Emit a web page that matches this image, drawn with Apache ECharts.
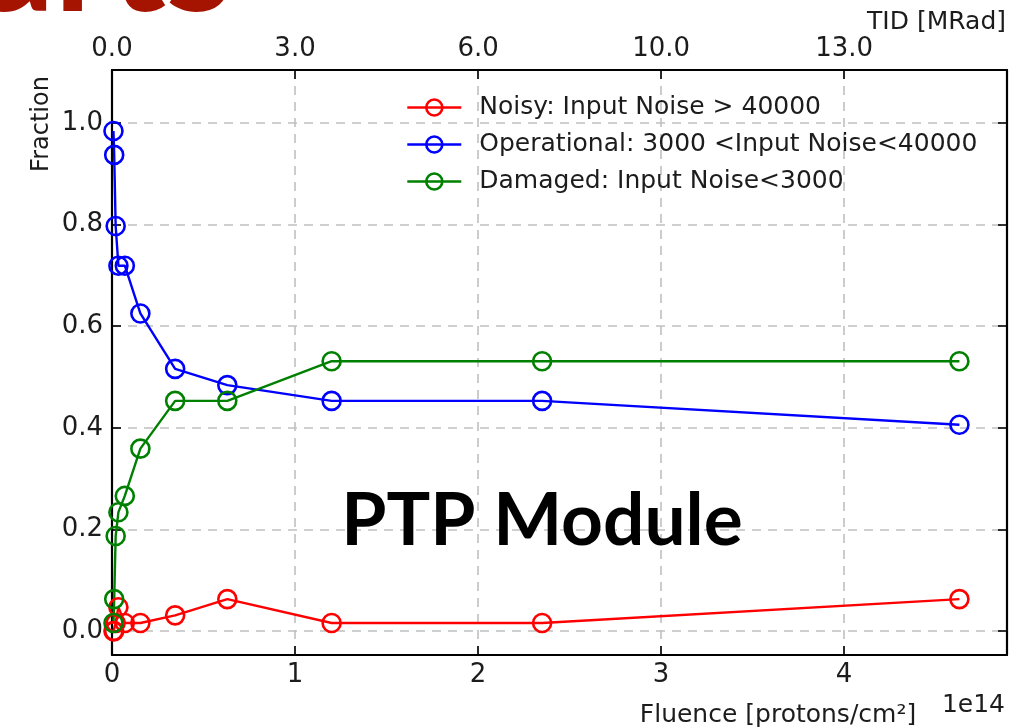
<!DOCTYPE html>
<html><head><meta charset="utf-8">
<script src="https://cdn.jsdelivr.net/npm/echarts@6/dist/echarts.min.js"></script>
<style>html,body{margin:0;padding:0;background:#fff}#c{width:1015px;height:728px}</style>
</head><body><div id="c"></div>
<script>
// Fluence in units of 1e14 protons/cm^2
const fluence = [0.008, 0.012, 0.02, 0.035, 0.07, 0.155, 0.345, 0.63, 1.2, 2.35, 4.63];
const noisy = [0.0, 0.0, 0.016, 0.047, 0.016, 0.016, 0.031, 0.063, 0.016, 0.016, 0.063];
const operational = [0.984, 0.937, 0.797, 0.719, 0.719, 0.625, 0.516, 0.484, 0.453, 0.453, 0.406];
const damaged = [0.016, 0.063, 0.187, 0.234, 0.266, 0.359, 0.453, 0.453, 0.531, 0.531, 0.531];
const seriesNames = ['Noisy: Input Noise > 40000', 'Operational: 3000 <Input Noise<40000', 'Damaged: Input Noise<3000'];
const seriesColors = ['#ff0000', '#0000ff', '#008000'];
const fluenceTicks = [0, 1, 2, 3, 4];
const tidLabels = ['0.0', '3.0', '6.0', '10.0', '13.0'];
const fractionTicks = [0, 0.2, 0.4, 0.6, 0.8, 1.0];

const FONT = 'DejaVu Sans';
const TXT = '#1c1c1c';
const chart = echarts.init(document.getElementById('c'), null, {renderer: 'canvas'});

const gridLine = {show: true, lineStyle: {color: '#c0c0c0', width: 1.6, type: [9, 7]}};
const axisLine = {show: true, onZero: false, lineStyle: {color: '#000', width: 2.2}};
const tick = (vals) => ({show: true, inside: true, length: 9, customValues: vals, lineStyle: {color: '#000', width: 1.6}});

function mkSeries(name, vals, color) {
  return {
    name: name, type: 'line', xAxisIndex: 0, yAxisIndex: 0,
    data: fluence.map((x, i) => [x, vals[i]]),
    symbol: 'circle', symbolSize: 18, clip: true,
    lineStyle: {color: color, width: 2.4},
    itemStyle: {color: 'rgba(0,0,0,0)', borderColor: color, borderWidth: 2.6},
    emphasis: {disabled: true}, animation: false
  };
}

chart.setOption({
  animation: false,
  grid: {left: 112, right: 8, top: 70, bottom: 73, containLabel: false},
  xAxis: [
    {type: 'value', position: 'bottom', min: 0, max: 4.89,
     axisLine: axisLine, axisTick: tick(fluenceTicks),
     axisLabel: {customValues: fluenceTicks, fontSize: 26, fontFamily: FONT, color: TXT, margin: 7,
                 formatter: v => String(v)},
     splitLine: gridLine},
    {type: 'value', position: 'top', min: 0, max: 4.89,
     axisLine: axisLine, axisTick: tick(fluenceTicks),
     axisLabel: {customValues: fluenceTicks, fontSize: 26, fontFamily: FONT, color: TXT, margin: 8,
                 formatter: v => tidLabels[fluenceTicks.indexOf(v)] || ''},
     splitLine: {show: false}}
  ],
  yAxis: [
    {type: 'value', position: 'left', min: -0.047, max: 1.104,
     axisLine: axisLine, axisTick: tick(fractionTicks),
     axisLabel: {customValues: fractionTicks, fontSize: 26, fontFamily: FONT, color: TXT, margin: 9,
                 formatter: v => v.toFixed(1)},
     splitLine: gridLine},
    {type: 'value', position: 'right', min: -0.047, max: 1.104,
     axisLine: axisLine, axisTick: tick(fractionTicks),
     axisLabel: {show: false}, splitLine: {show: false}}
  ],
  legend: {
    orient: 'vertical', left: 401, top: 90, itemWidth: 54, itemHeight: 20, itemGap: 12,
    selectedMode: false,
    lineStyle: {width: 2.6},
    itemStyle: {borderWidth: 2.6},
    textStyle: {fontSize: 25, fontFamily: FONT, color: TXT, lineHeight: 25, padding: [0, 0, 0, 13]},
    data: seriesNames
  },
  series: [
    mkSeries(seriesNames[0], noisy, seriesColors[0]),
    mkSeries(seriesNames[1], operational, seriesColors[1]),
    mkSeries(seriesNames[2], damaged, seriesColors[2])
  ],
  graphic: [
    {type: 'text', x: 232, y: -37, silent: true,
     style: {text: 'arts', font: 'bold 150px Lato', fill: '#a51400', align: 'right', verticalAlign: 'middle'}},
    {type: 'text', x: 542, y: 521, silent: true, z: 100,
     style: {text: 'PTP Module', font: 'bold 73px Lato', fill: '#000', align: 'center', verticalAlign: 'middle'}},
    {type: 'text', x: 42, y: 124, rotation: Math.PI / 2, silent: true,
     style: {text: 'Fraction', font: '24px "DejaVu Sans"', fill: TXT, align: 'center', verticalAlign: 'middle'}},
    {type: 'text', x: 778, y: 715, silent: true,
     style: {text: 'Fluence [protons/cm²]', font: '25px "DejaVu Sans"', fill: TXT, align: 'center', verticalAlign: 'middle'}},
    {type: 'text', x: 1005, y: 705, silent: true,
     style: {text: '1e14', font: '25px "DejaVu Sans"', fill: TXT, align: 'right', verticalAlign: 'middle'}},
    {type: 'text', x: 1006, y: 22, silent: true,
     style: {text: 'TID [MRad]', font: '25px "DejaVu Sans"', fill: TXT, align: 'right', verticalAlign: 'middle'}}
  ]
});
</script>
</body></html>
